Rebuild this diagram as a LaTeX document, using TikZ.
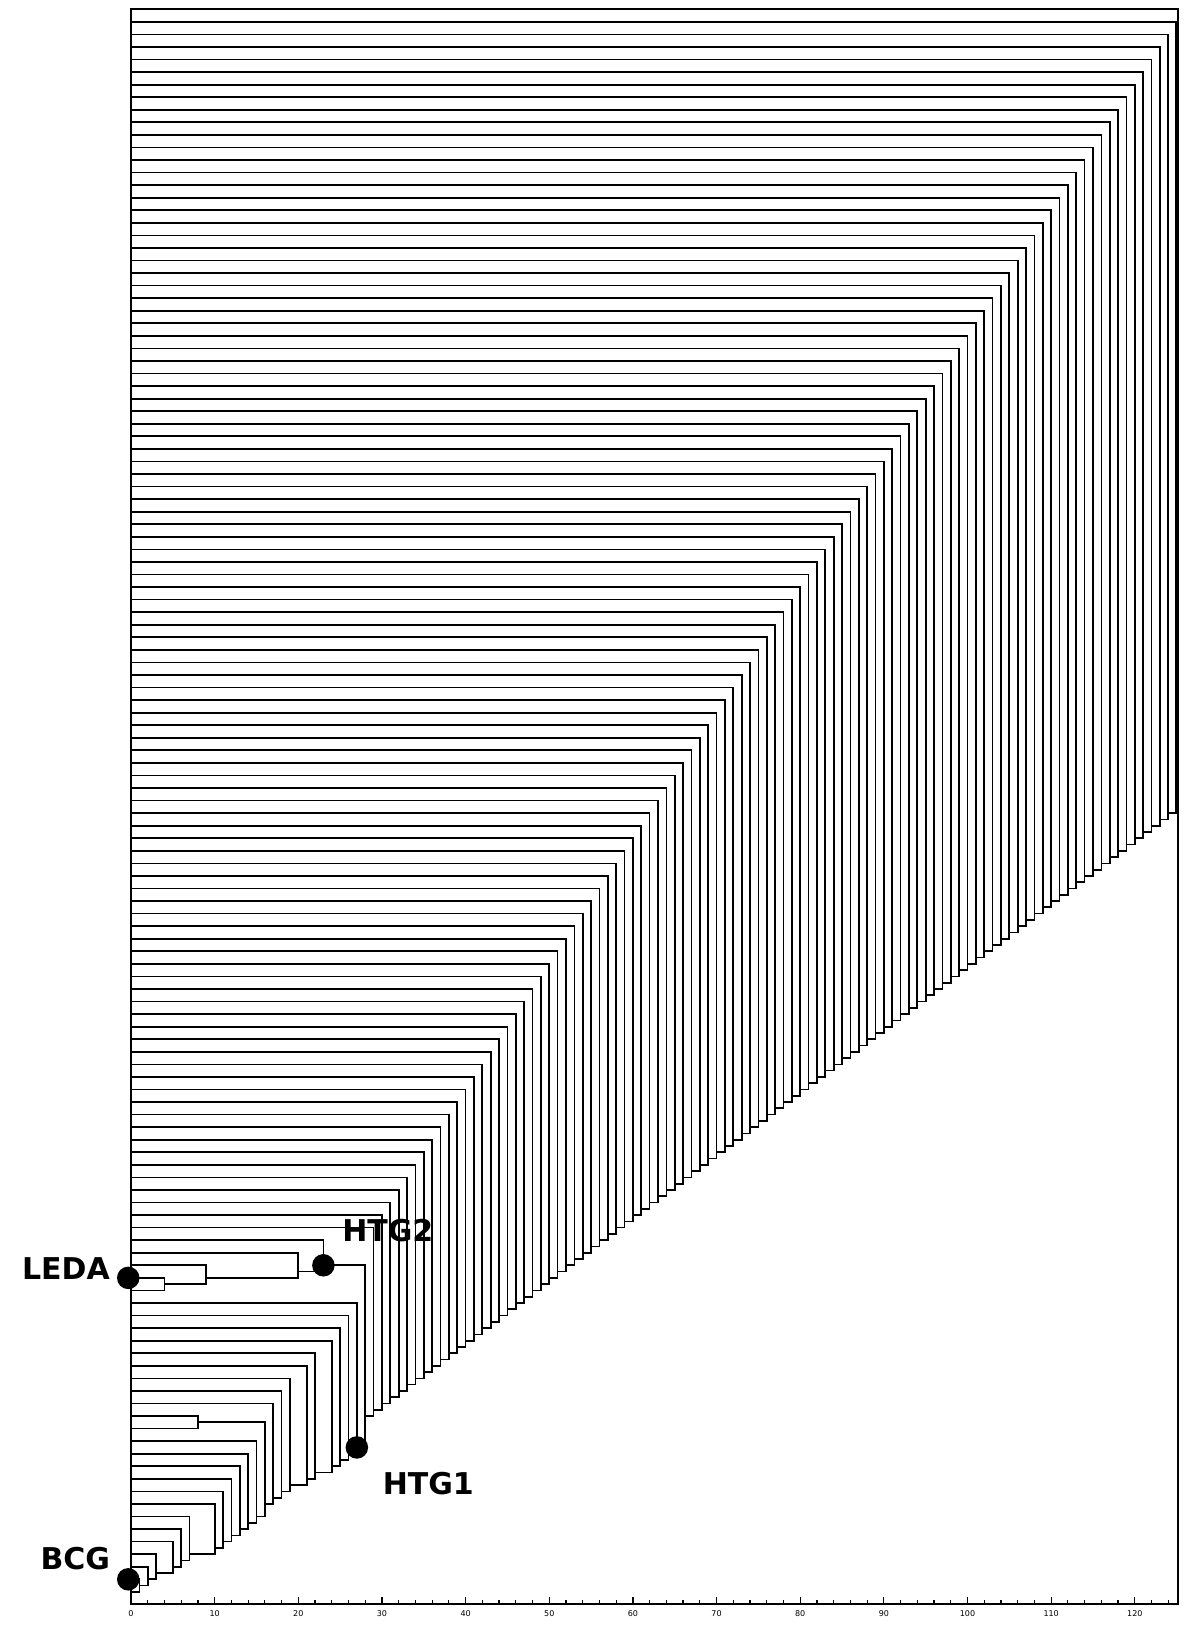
\documentclass[tikz,border=0pt]{standalone}
\usepackage{fontspec}
\setmainfont{DejaVu Sans}
\begin{document}
\begin{tikzpicture}[x=8.365pt,y=-12.56pt,
  tree/.style={line width=1.7pt, line join=miter, line cap=rect},
  frame/.style={line width=1.7pt},
  tick/.style={line width=1.2pt},
  dot/.style={circle, fill=black, inner sep=0pt, minimum size=22.5pt},
  lab/.style={font=\fontsize{30}{30}\selectfont\bfseries, anchor=base, inner sep=0pt},
  ticklab/.style={font=\fontsize{8}{8}\selectfont, inner sep=0pt}]
\useasboundingbox (-15.6605,-0.74045) rectangle (127.794,128.957);
% frame
\draw[frame] (0,0) rectangle (125.2,126.97);
% ticks
\foreach \t in {2,4,...,124}{\draw[tick] (\t,126.97) -- ++(0pt,4pt);}
\foreach \t in {0,10,...,120}{
  \draw[tick] (\t,126.97) -- ++(0pt,7pt);
  \node[ticklab, yshift=-10pt] (tl\t) at (\t,126.97) {\t};
}
% lower group and LEDA group: leaf / height / child height / child position
\foreach \l/\h/\ch/\cp in {125/1/0/126, 124/2/1/125.5, 123/3/2/125, 122/5/3/124.5,
  121/6/5/124, 120/7/6/123.5, 119/10/7/123, 118/11/10/122.5, 117/12/11/122,
  116/13/12/121.5, 115/14/13/121, 114/15/14/120.5, 112/8/0/113, 111/17/16/119,
  110/18/17/118.5, 109/19/18/118, 108/21/19/117.5, 107/22/21/117, 106/24/22/116.5,
  105/25/24/116, 104/26/25/115.5, 103/27/26/115, 101/4/0/102, 100/9/4/101.5,
  99/20/9/101, 98/23/20/100.5}{
  \draw[tree] (0,\l) -- (\h,\l) -- (\h,\cp) -- (\ch,\cp);
}
\draw[tree] (8,112.5) -- (16,112.5) -- (16,120) -- (15,120);
\draw[tree] (23,100) -- (28,100) -- (28,114.5) -- (27,114.5);
% top chain
\foreach \h in {29,...,124}{
  \pgfmathsetmacro\i{126-\h}
  \pgfmathsetmacro\p{(253-\h)/2}
  \pgfmathsetmacro\q{\h-1}
  \draw[tree] (0,\i) -- (\h,\i) -- (\h,\p) -- (\q,\p);
}
\draw[tree] (0,1) -- (124.9,1) -- (124.9,64) -- (124,64);
\draw[tree] (0,0) -- (125.2,0) -- (125.2,63.5) -- (124.9,63.5);
% dots
\node[dot] (leda) at (-0.33,101) {};
\node[dot] (bcg) at (-0.33,125) {};
\node[dot] (htg2) at (23,100) {};
\node[dot] (htg1) at (27,114.5) {};
% labels
\node[lab] (ledalab) at (-7.77,101.09) {LEDA};
\node[lab] (bcglab) at (-6.65,124.18) {BCG};
\node[lab] (htg2lab) at (30.70,98.12) {HTG2};
\node[lab] (htg1lab) at (35.54,118.23) {HTG1};
\end{tikzpicture}
\end{document}
